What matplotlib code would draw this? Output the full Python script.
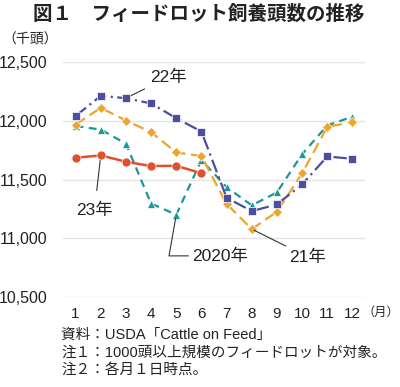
import matplotlib.pyplot as plt

plt.rcParams['font.family'] = ['Liberation Sans', 'Noto Sans CJK JP', 'DejaVu Sans']

months = list(range(1, 13))
y2020 = [11955, 11925, 11805, 11295, 11200, 11665, 11435, 11280, 11390, 11715, 11960, 12035]
y2021 = [11968, 12110, 12002, 11903, 11730, 11700, 11292, 11078, 11225, 11552, 11948, 11988]
y2022 = [12040, 12212, 12192, 12147, 12022, 11908, 11345, 11231, 11288, 11458, 11696, 11676]
y2023 = [11685, 11705, 11651, 11614, 11617, 11553]

yticks = [10500, 11000, 11500, 12000, 12500]
ytick_labels = ['10,500', '11,000', '11,500', '12,000', '12,500']

c_blue = '#4b4f9e'
c_orange = '#efa42c'
c_teal = '#1b9893'
c_red = '#e0502c'

fig = plt.figure(figsize=(4.0, 3.87), dpi=100)
ax = fig.add_axes([63 / 400, 90 / 387, 302 / 400, 235 / 387])

ax.plot(months, y2020, color=c_teal, linestyle=(0, (3.5, 2.5)), lw=1.6,
        marker='^', ms=6, mec='white', mew=0.5, zorder=3)
ax.plot(months, y2021, color=c_orange, linestyle=(0, (5, 2.5)), lw=1.6,
        marker='D', ms=5.5, mec='white', mew=0.5, zorder=3)
ax.plot(months, y2022, color=c_blue, linestyle=(0, (6, 2, 1, 2)), lw=1.6,
        marker='s', ms=6, mec='white', mew=0.5, zorder=4)
ax.plot(months[:len(y2023)], y2023, color=c_red, linestyle='-', lw=1.8,
        marker='o', ms=6.5, mec='white', mew=0.5, zorder=5)

ax.set_xlim(0.5, 12.5)
ax.set_ylim(10500, 12500)
ax.set_yticks(yticks)
ax.set_yticklabels(ytick_labels)
ax.set_xticks(months)
ax.set_xticklabels([str(m) for m in months])
ax.tick_params(axis='both', length=0, labelsize=11.5, colors='#222222')
ax.tick_params(axis='x', labelsize=11)
ax.tick_params(axis='y', pad=11)
ax.tick_params(axis='x', pad=7)
ax.grid(axis='y', color='#e4e4e4', lw=1)
ax.set_axisbelow(True)
for s in ax.spines.values():
    s.set_visible(False)

# 系列ラベル
lab = dict(fontsize=12.5, color='#222222', va='center')
ax.annotate('22年', xy=(3, y2022[2]), xytext=(3.95, 12370), ha='left',
            arrowprops=dict(arrowstyle='-', color='#333333', lw=0.8,
                            shrinkA=2, shrinkB=3), **lab)
ax.annotate('23年', xy=(2, y2023[1]), xytext=(1.75, 11235), ha='center',
            arrowprops=dict(arrowstyle='-', color='#333333', lw=0.8,
                            shrinkA=7, shrinkB=2), **lab)
ax.annotate('2020年', xy=(5, y2020[4]), xytext=(5.65, 10850), ha='left',
            arrowprops=dict(arrowstyle='-', color='#333333', lw=0.8,
                            shrinkA=1, shrinkB=3,
                            connectionstyle='angle,angleA=0,angleB=80,rad=0'), **lab)
ax.annotate('21年', xy=(8, y2021[7]), xytext=(9.5, 10840), ha='left',
            arrowprops=dict(arrowstyle='-', color='#333333', lw=0.8,
                            shrinkA=1, shrinkB=2), **lab)

fig.text(199 / 400, 1 - 14 / 387, '図１　フィードロット飼養頭数の推移',
         ha='center', va='center', fontsize=14, fontweight='bold', color='#222222')
fig.text(2 / 400, 1 - 40 / 387, '（千頭）', ha='left', va='center', fontsize=10, color='#222222')
fig.text(399.5 / 400, 1 - 313 / 387, '（月）', ha='right', va='center', fontsize=8.8, color='#222222')

notes = ['資料：USDA「Cattle on Feed」',
         '注１：1000頭以上規模のフィードロットが対象。',
         '注２：各月１日時点。']
for i, t in enumerate(notes):
    fig.text(61 / 400, 1 - (335 + 17.5 * i) / 387, t, ha='left', va='center',
             fontsize=10.5, color='#222222')

fig.savefig('out.png', dpi=100, facecolor='white')
